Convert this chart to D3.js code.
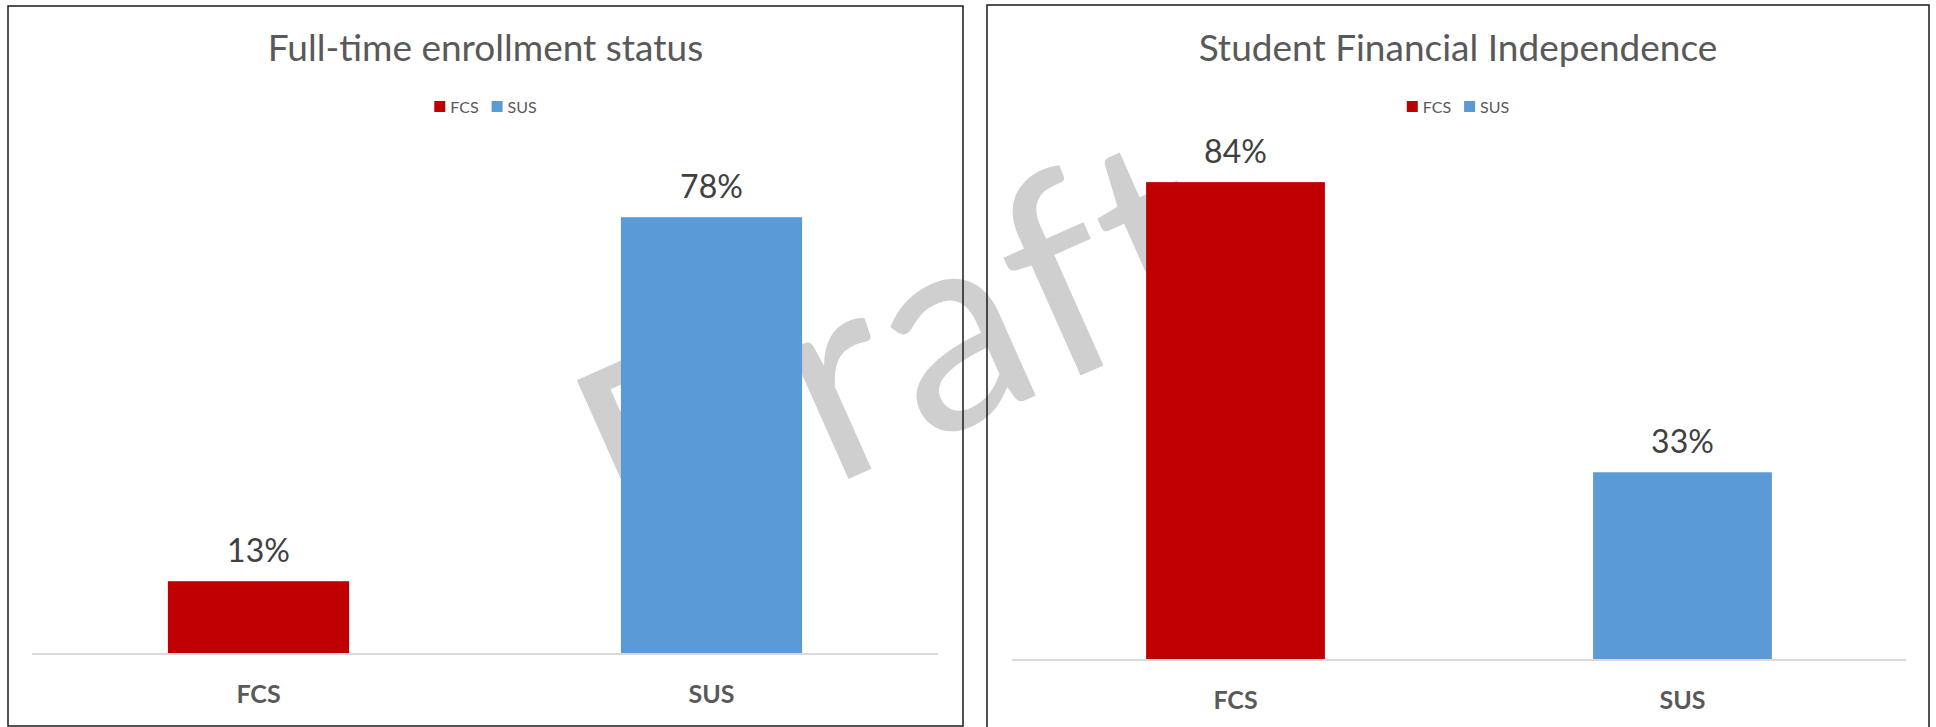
<!DOCTYPE html>
<html>
<head>
<meta charset="utf-8">
<script src="https://cdn.jsdelivr.net/npm/d3@7"></script>
<style>
  html, body { margin: 0; padding: 0; background: #fff; }
  svg { display: block; }
  text { font-family: Lato, "Open Sans", sans-serif; }
</style>
</head>
<body>
<svg id="chart"></svg>
<script>
// data
var categories = ["FCS", "SUS"];
var enrollmentValues = [0.13, 0.78];
var independenceValues = [0.84, 0.33];
var chartTitles = ["Full-time enrollment status", "Student Financial Independence"];
var seriesColors = ["#c00000", "#5b9bd5"];
var watermarkText = "Draft";

var width = 1936,
  height = 727;
var svg = d3.select("#chart").attr("width", width).attr("height", height);

// watermark sits behind both charts
svg
  .append("text")
  .attr("transform", "translate(635,574) rotate(-24)")
  .attr("font-size", 280)
  .attr("letter-spacing", 4)
  .attr("fill", "#d0cfd0")
  .text(watermarkText);

var panels = [
  { title: chartTitles[0], values: enrollmentValues, x0: 8, y0: 6, x1: 963, y1: 726,
    left: 32, right: 938, base: 654, top: 150 },
  { title: chartTitles[1], values: independenceValues, x0: 987, y0: 5, x1: 1929, y1: 760,
    left: 1012, right: 1906, base: 660, top: 148 }
];

panels.forEach(function (p) {
  var g = svg.append("g");
  var cx = (p.x0 + p.x1) / 2;

  var x = d3.scaleBand().domain(categories).range([p.left, p.right])
    .paddingInner(0.6).paddingOuter(0.3);
  var y = d3.scaleLinear().domain([0, 0.9]).range([p.base, p.top]);
  var color = d3.scaleOrdinal().domain(categories).range(seriesColors);

  // title
  g.append("text")
    .attr("x", cx)
    .attr("y", 61)
    .attr("text-anchor", "middle")
    .attr("font-size", 37)
    .attr("fill", "#595959")
    .text(p.title);

  // legend
  var leg = g.append("g");
  var lx = 0;
  categories.forEach(function (c) {
    leg.append("rect").attr("x", lx).attr("y", 101).attr("width", 11).attr("height", 11)
      .attr("fill", color(c));
    var t = leg.append("text").attr("x", lx + 16).attr("y", 113)
      .attr("font-size", 16).attr("fill", "#595959").text(c);
    lx += 16 + t.node().getComputedTextLength() + 13;
  });
  var bb = leg.node().getBBox();
  leg.attr("transform", "translate(" + (cx - bb.width / 2 - bb.x) + ",0)");

  var data = categories.map(function (c, i) { return { cat: c, value: p.values[i] }; });

  // bars
  g.selectAll(".bar").data(data).enter().append("rect")
    .attr("x", function (d) { return x(d.cat); })
    .attr("y", function (d) { return y(d.value); })
    .attr("width", x.bandwidth())
    .attr("height", function (d) { return y(0) - y(d.value); })
    .attr("fill", function (d) { return color(d.cat); });

  // value labels
  g.selectAll(".val").data(data).enter().append("text")
    .attr("x", function (d) { return x(d.cat) + x.bandwidth() / 2; })
    .attr("y", function (d) { return y(d.value) - 19; })
    .attr("text-anchor", "middle")
    .attr("font-size", 32)
    .attr("fill", "#404040")
    .text(function (d) { return d3.format(".0%")(d.value); });

  // category axis
  var axis = g.append("g")
    .attr("transform", "translate(0," + p.base + ")")
    .call(d3.axisBottom(x).tickSize(0).tickPadding(0));
  axis.select(".domain").attr("stroke", "#d9d9d9").attr("stroke-width", 2)
    .attr("d", "M" + p.left + ",0H" + p.right);
  axis.selectAll(".tick text")
    .attr("dy", 0)
    .attr("y", 49)
    .attr("font-family", "Lato, 'Open Sans', sans-serif")
    .attr("font-size", 25)
    .attr("font-weight", "bold")
    .attr("fill", "#595959");

  // chart frame
  g.append("rect")
    .attr("x", p.x0).attr("y", p.y0)
    .attr("width", p.x1 - p.x0).attr("height", p.y1 - p.y0)
    .attr("fill", "none").attr("stroke", "#1a1a1a").attr("stroke-width", 1.5);
});
</script>
</body>
</html>
